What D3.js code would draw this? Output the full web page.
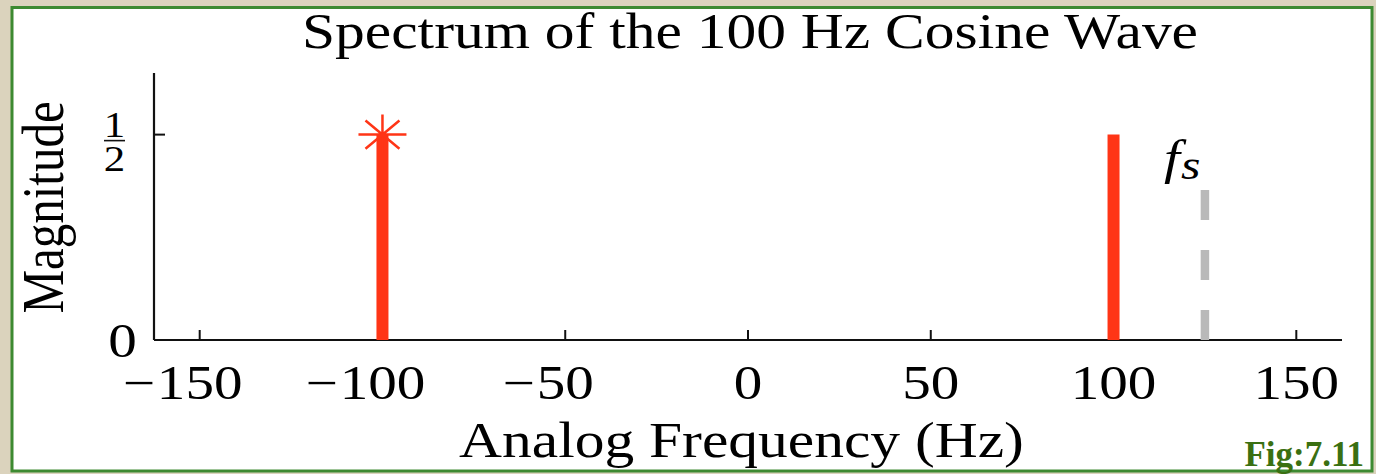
<!DOCTYPE html>
<html>
<head>
<meta charset="utf-8">
<style>
    html, body { margin:0; padding:0; background:#dbd3bd; }
    svg { display:block; }
    text { font-family:"Liberation Serif","Times New Roman",serif; fill:#000; }
</style>
</head>
<body>
<svg id="chart" width="1376" height="474"></svg>
<script src="https://cdn.jsdelivr.net/npm/d3@7/dist/d3.min.js"></script>
<script>
// chart data
var xDomain = [-162.5, 162.5];
var yDomain = [0, 0.65];
var xTicks = [-150, -100, -50, 0, 50, 100, 150];
var yTicks = [0, 0.5];
var stemFreqs = [-100, 100];
var stemMags = [0.5, 0.5];
var markedFreq = [-100];      // stem that carries the asterisk
var fsFreq = [125];
var fsMag = [0.365];

var SX = 1.19;   // the figure text is a bit wide
var red = "#ff3516";

var svg = d3.select("#chart");

// white panel with green frame
svg.append("rect")
    .attr("x", 12).attr("y", 7.5)
    .attr("width", 1360).attr("height", 463.5)
    .attr("fill", "#fff")
    .attr("stroke", "#3d8a31")
    .attr("stroke-width", 3);

var x = d3.scaleLinear().domain(xDomain).range([154, 1342]);
var y = d3.scaleLinear().domain(yDomain).range([340, 73]);

function stext(str, px, py, size, anchor) {
    return svg.append("text")
        .attr("transform", "translate(" + px + "," + py + ") scale(" + SX + ",1)")
        .attr("text-anchor", anchor || "middle")
        .style("font-size", size + "px")
        .text(str);
}

// axes
svg.append("line")
    .attr("x1", x(xDomain[0])).attr("x2", x(xDomain[1]))
    .attr("y1", y(0)).attr("y2", y(0))
    .attr("stroke", "#111").attr("stroke-width", 2.2);
svg.append("line")
    .attr("x1", x(xDomain[0])).attr("x2", x(xDomain[0]))
    .attr("y1", y(yDomain[0])).attr("y2", y(yDomain[1]))
    .attr("stroke", "#111").attr("stroke-width", 2.2);

svg.selectAll(".xtick").data(xTicks).enter().append("line")
    .attr("x1", function(d){ return x(d); }).attr("x2", function(d){ return x(d); })
    .attr("y1", y(0)).attr("y2", y(0) - 10)
    .attr("stroke", "#111").attr("stroke-width", 2);
svg.selectAll(".ytick").data(yTicks.filter(function(d){ return d > 0; })).enter().append("line")
    .attr("x1", x(xDomain[0])).attr("x2", x(xDomain[0]) + 11)
    .attr("y1", function(d){ return y(d); }).attr("y2", function(d){ return y(d); })
    .attr("stroke", "#111").attr("stroke-width", 2);

// x tick labels: digits centred on the tick, minus hanging to the left
xTicks.forEach(function(v) {
    var t = stext(String(Math.abs(v)), x(v), 399, 48, "middle");
    if (v < 0) {
        var w = t.node().getComputedTextLength() * SX;
        stext("\u2212", x(v) - w / 2 - 2, 399, 48, "end");
    }
});

// y tick labels
yTicks.forEach(function(v) {
    if (v === 0) {
        stext("0", 122.5, y(v) + 17, 48, "middle");
    } else {
        stext("1", 114.5, y(v) + 2, 36, "middle");
        svg.append("line")
            .attr("x1", 104).attr("x2", 125)
            .attr("y1", y(v) + 6).attr("y2", y(v) + 6)
            .attr("stroke", "#111").attr("stroke-width", 1.6);
        stext("2", 114.5, y(v) + 36, 36, "middle");
    }
});

// fs dashed marker
svg.selectAll(".fs").data(fsFreq).enter().append("line")
    .attr("x1", function(d){ return x(d); }).attr("x2", function(d){ return x(d); })
    .attr("y1", function(d, i){ return y(fsMag[i]); }).attr("y2", y(0))
    .attr("stroke", "#b9b9b9").attr("stroke-width", 8.5)
    .attr("stroke-dasharray", "30,30");

var fsLab = svg.append("text")
    .attr("transform", "translate(1164,174) scale(" + SX + ",1)")
    .style("font-style", "italic");
fsLab.append("tspan").style("font-size", "48px").text("f");
fsLab.append("tspan").attr("dy", 5).attr("dx", 1).style("font-size", "42px").text("s");

// spectral lines
svg.selectAll(".stem").data(stemFreqs).enter().append("line")
    .attr("x1", function(d){ return x(d); }).attr("x2", function(d){ return x(d); })
    .attr("y1", y(0)).attr("y2", function(d, i){ return y(stemMags[i]); })
    .attr("stroke", red).attr("stroke-width", 12);

// asterisk marker
var rx = 24, ry = 20, k = Math.SQRT1_2;
markedFreq.forEach(function(f) {
    var cx = x(f), cy = y(stemMags[stemFreqs.indexOf(f)]);
    var p = d3.path();
    p.moveTo(cx - rx, cy); p.lineTo(cx + rx, cy);
    p.moveTo(cx, cy - ry); p.lineTo(cx, cy + ry);
    p.moveTo(cx - rx * k, cy - ry * k); p.lineTo(cx + rx * k, cy + ry * k);
    p.moveTo(cx - rx * k, cy + ry * k); p.lineTo(cx + rx * k, cy - ry * k);
    svg.append("path").attr("d", p.toString())
        .attr("stroke", red).attr("stroke-width", 2.5).attr("fill", "none");
});

// titles
stext("Spectrum of the 100 Hz Cosine Wave", 750, 48, 50, "middle");
stext("Analog Frequency (Hz)", 741.5, 457, 50, "middle");
svg.append("text")
    .attr("transform", "translate(63,207.5) rotate(-90) scale(1," + SX + ")")
    .attr("text-anchor", "middle")
    .style("font-size", "49px")
    .text("Magnitude");

svg.append("text")
    .attr("x", 1364).attr("y", 466)
    .attr("text-anchor", "end")
    .style("font-size", "35px").style("font-weight", "bold")
    .style("fill", "#3a7012")
    .text("Fig:7.11");
</script>
</body>
</html>
